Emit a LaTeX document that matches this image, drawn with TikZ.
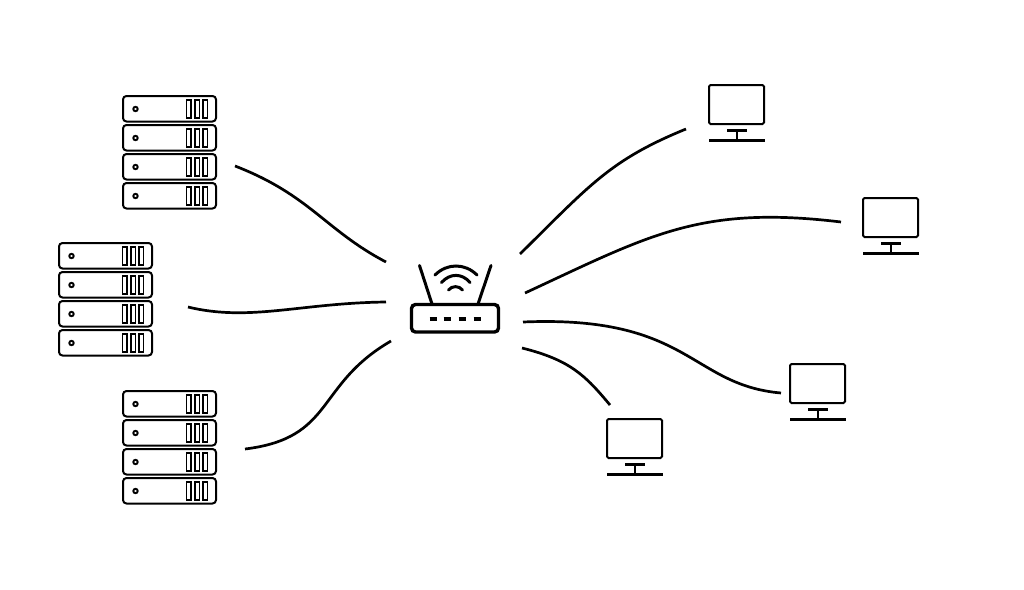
\documentclass[tikz,border=0pt]{standalone}
\tikzset{
  pics/rack/.style={code={
    \foreach \u in {0,1,2,3} {
      \draw[unit] (0,29*\u) rectangle (93,29*\u+25.5);
      \draw[led] (12.5,29*\u+13) circle (2.2);
      \foreach \b in {63.5,72,80}
      \draw[slot] (\b,29*\u+4) rectangle +(4.5,18);
    }
  }},
  pics/monitor/.style={code={
    \draw[unit,rounded corners=1.5pt] (0,0) rectangle (55,39);
    \draw[stand] (18,45.5) -- (38,45.5);
    \draw[stand] (28,45.5) -- (28,55.5);
    \draw[stand] (0,55.5) -- (56,55.5);
  }}
}

\begin{document}
\begin{tikzpicture}[x=1pt,y=-1pt]
    \tikzstyle{unit}=[line width=2pt,rounded corners=3.5pt]
    \tikzstyle{stand}=[line width=2.3pt]
    \tikzstyle{led}=[line width=1.9pt]
    \tikzstyle{slot}=[line width=1.8pt]
    \tikzstyle{link}=[line width=2.7pt]
    \tikzstyle{mast}=[line width=3pt,line cap=round]
    \tikzstyle{wave}=[line width=3pt,line cap=round]

    \useasboundingbox (0,0) rectangle (1024,589);

    % server stacks
    \pic at (123,96) {rack};
    \pic at (59,243) {rack};
    \pic at (123,391) {rack};

    % screens
    \pic at (709,85) {monitor};
    \pic at (863,198) {monitor};
    \pic at (790,364) {monitor};
    \pic at (607,419) {monitor};

    % router
    \draw[line width=3.4pt,rounded corners=4pt] (411.5,304.5) rectangle (498.5,332);
    \foreach \x in {433,447,462,477}
    \draw[line width=3.2pt] (\x-3.5,319) -- (\x+3.5,319);
    \draw[mast] (419.5,265.5) -- (432,304);
    \draw[mast] (491,265.5) -- (478,304);
    \draw[wave] (435,275) .. controls (447,263) and (465,263) .. (477,275);
    \draw[wave] (441.5,282.5) .. controls (450,273) and (462,273) .. (470,282.5);
    \draw[wave] (448.5,290) .. controls (452,285.5) and (459,285.5) .. (462.5,290);

    % connector ends
    \coordinate (S-1) at (235,166);
    \coordinate (S-2) at (188,307);
    \coordinate (S-3) at (245,449);
    \coordinate (R-1) at (386,262);
    \coordinate (R-2) at (386,302);
    \coordinate (R-3) at (391,341);
    \coordinate (R-4) at (520,254);
    \coordinate (R-5) at (525,293);
    \coordinate (R-6) at (523,322);
    \coordinate (R-7) at (522,348);
    \coordinate (P-1) at (686,129);
    \coordinate (P-2) at (841,222);
    \coordinate (P-3) at (781,393);
    \coordinate (P-4) at (610,405);

    \draw[link] (S-1) .. controls (310,195) and (325,230) .. (R-1);
    \draw[link] (S-2) .. controls (250,322) and (300,303) .. (R-2);
    \draw[link] (S-3) .. controls (335,438) and (315,385) .. (R-3);
    \draw[link] (R-4) .. controls (590,185) and (610,160) .. (P-1);
    \draw[link] (R-5) .. controls (650,235) and (700,205) .. (P-2);
    \draw[link] (R-6) .. controls (690,315) and (690,385) .. (P-3);
    \draw[link] (R-7) .. controls (570,360) and (585,375) .. (P-4);
  \end{tikzpicture}
\end{document}
